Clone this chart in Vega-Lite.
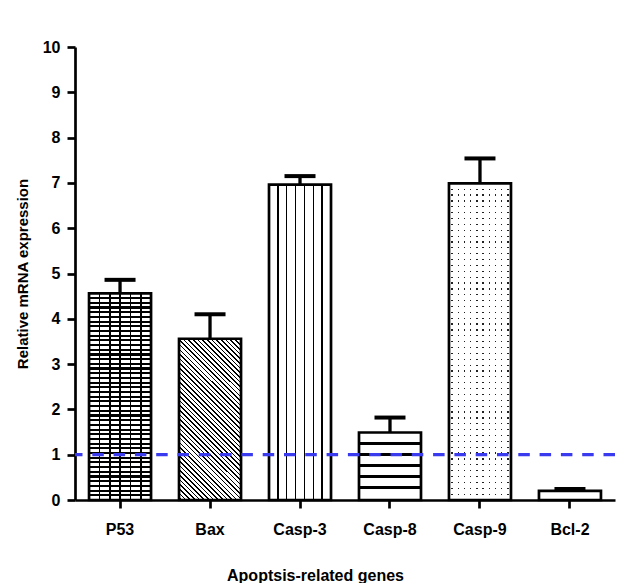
{
"$schema":"https://vega.github.io/schema/vega-lite/v6.json",
"width":540,"height":453,
"autosize":{"type":"none"},
"padding":{"left":75,"top":47,"right":2,"bottom":83},
"background":"white",
"config":{"view":{"stroke":null},"font":"Liberation Sans",
 "axis":{"domainColor":"black","domainWidth":2.7,"tickColor":"black","tickWidth":2.7,"tickSize":8,"labelColor":"black","labelFont":"Liberation Sans","labelFontSize":16,"labelFontWeight":"bold","titleColor":"black","titleFont":"Liberation Sans","titleFontWeight":"bold","grid":false}},
"data":{"values":[
 {"gene":"P53","value":4.56,"upper":4.86},
 {"gene":"Bax","value":3.56,"upper":4.10},
 {"gene":"Casp-3","value":6.96,"upper":7.15},
 {"gene":"Casp-8","value":1.49,"upper":1.82},
 {"gene":"Casp-9","value":6.99,"upper":7.54},
 {"gene":"Bcl-2","value":0.20,"upper":0.243}
]},
"layer":[
{"encoding":{"x":{"field":"gene","type":"nominal","sort":null,"scale":{"paddingInner":0.311,"paddingOuter":0.156},"title":"Apoptsis-related genes","axis":{"labelAngle":0,"labelPadding":13,"titleFontSize":16,"titleX":240,"titleY":80,"titleBaseline":"alphabetic"}},
 "y":{"field":"value","type":"quantitative","scale":{"domain":[0,10],"nice":false},"title":"Relative mRNA expression","axis":{"values":[0,1,2,3,4,5,6,7,8,9,10],"labelPadding":7,"titleFontSize":15,"titleX":-53,"titleY":226.5,"titleBaseline":"middle","titleAngle":-90}}},
"layer":[
{"transform":[{"filter":"datum.gene==='P53'"}],
 "mark":{"type":"bar","fill":{"gradient":"linear","x1":0,"y1":0,"x2":0,"y2":1,"stops":[
{"offset":0,"color":"#fff"},
{"offset":0.0176,"color":"#fff"},{"offset":0.0176,"color":"#000"},{"offset":0.0278,"color":"#000"},{"offset":0.0278,"color":"#fff"},
{"offset":0.0404,"color":"#fff"},{"offset":0.0404,"color":"#000"},{"offset":0.0506,"color":"#000"},{"offset":0.0506,"color":"#fff"},
{"offset":0.0631,"color":"#fff"},{"offset":0.0631,"color":"#000"},{"offset":0.0733,"color":"#000"},{"offset":0.0733,"color":"#fff"},
{"offset":0.0858,"color":"#fff"},{"offset":0.0858,"color":"#000"},{"offset":0.0960,"color":"#000"},{"offset":0.0960,"color":"#fff"},
{"offset":0.1085,"color":"#fff"},{"offset":0.1085,"color":"#000"},{"offset":0.1187,"color":"#000"},{"offset":0.1187,"color":"#fff"},
{"offset":0.1313,"color":"#fff"},{"offset":0.1313,"color":"#000"},{"offset":0.1415,"color":"#000"},{"offset":0.1415,"color":"#fff"},
{"offset":0.1540,"color":"#fff"},{"offset":0.1540,"color":"#000"},{"offset":0.1642,"color":"#000"},{"offset":0.1642,"color":"#fff"},
{"offset":0.1767,"color":"#fff"},{"offset":0.1767,"color":"#000"},{"offset":0.1869,"color":"#000"},{"offset":0.1869,"color":"#fff"},
{"offset":0.1994,"color":"#fff"},{"offset":0.1994,"color":"#000"},{"offset":0.2096,"color":"#000"},{"offset":0.2096,"color":"#fff"},
{"offset":0.2222,"color":"#fff"},{"offset":0.2222,"color":"#000"},{"offset":0.2324,"color":"#000"},{"offset":0.2324,"color":"#fff"},
{"offset":0.2449,"color":"#fff"},{"offset":0.2449,"color":"#000"},{"offset":0.2551,"color":"#000"},{"offset":0.2551,"color":"#fff"},
{"offset":0.2676,"color":"#fff"},{"offset":0.2676,"color":"#000"},{"offset":0.2778,"color":"#000"},{"offset":0.2778,"color":"#fff"},
{"offset":0.2904,"color":"#fff"},{"offset":0.2904,"color":"#000"},{"offset":0.3006,"color":"#000"},{"offset":0.3006,"color":"#fff"},
{"offset":0.3131,"color":"#fff"},{"offset":0.3131,"color":"#000"},{"offset":0.3233,"color":"#000"},{"offset":0.3233,"color":"#fff"},
{"offset":0.3358,"color":"#fff"},{"offset":0.3358,"color":"#000"},{"offset":0.3460,"color":"#000"},{"offset":0.3460,"color":"#fff"},
{"offset":0.3585,"color":"#fff"},{"offset":0.3585,"color":"#000"},{"offset":0.3687,"color":"#000"},{"offset":0.3687,"color":"#fff"},
{"offset":0.3813,"color":"#fff"},{"offset":0.3813,"color":"#000"},{"offset":0.3915,"color":"#000"},{"offset":0.3915,"color":"#fff"},
{"offset":0.4040,"color":"#fff"},{"offset":0.4040,"color":"#000"},{"offset":0.4142,"color":"#000"},{"offset":0.4142,"color":"#fff"},
{"offset":0.4267,"color":"#fff"},{"offset":0.4267,"color":"#000"},{"offset":0.4369,"color":"#000"},{"offset":0.4369,"color":"#fff"},
{"offset":0.4494,"color":"#fff"},{"offset":0.4494,"color":"#000"},{"offset":0.4596,"color":"#000"},{"offset":0.4596,"color":"#fff"},
{"offset":0.4722,"color":"#fff"},{"offset":0.4722,"color":"#000"},{"offset":0.4824,"color":"#000"},{"offset":0.4824,"color":"#fff"},
{"offset":0.4949,"color":"#fff"},{"offset":0.4949,"color":"#000"},{"offset":0.5051,"color":"#000"},{"offset":0.5051,"color":"#fff"},
{"offset":0.5176,"color":"#fff"},{"offset":0.5176,"color":"#000"},{"offset":0.5278,"color":"#000"},{"offset":0.5278,"color":"#fff"},
{"offset":0.5404,"color":"#fff"},{"offset":0.5404,"color":"#000"},{"offset":0.5506,"color":"#000"},{"offset":0.5506,"color":"#fff"},
{"offset":0.5631,"color":"#fff"},{"offset":0.5631,"color":"#000"},{"offset":0.5733,"color":"#000"},{"offset":0.5733,"color":"#fff"},
{"offset":0.5858,"color":"#fff"},{"offset":0.5858,"color":"#000"},{"offset":0.5960,"color":"#000"},{"offset":0.5960,"color":"#fff"},
{"offset":0.6085,"color":"#fff"},{"offset":0.6085,"color":"#000"},{"offset":0.6187,"color":"#000"},{"offset":0.6187,"color":"#fff"},
{"offset":0.6313,"color":"#fff"},{"offset":0.6313,"color":"#000"},{"offset":0.6415,"color":"#000"},{"offset":0.6415,"color":"#fff"},
{"offset":0.6540,"color":"#fff"},{"offset":0.6540,"color":"#000"},{"offset":0.6642,"color":"#000"},{"offset":0.6642,"color":"#fff"},
{"offset":0.6767,"color":"#fff"},{"offset":0.6767,"color":"#000"},{"offset":0.6869,"color":"#000"},{"offset":0.6869,"color":"#fff"},
{"offset":0.6994,"color":"#fff"},{"offset":0.6994,"color":"#000"},{"offset":0.7096,"color":"#000"},{"offset":0.7096,"color":"#fff"},
{"offset":0.7222,"color":"#fff"},{"offset":0.7222,"color":"#000"},{"offset":0.7324,"color":"#000"},{"offset":0.7324,"color":"#fff"},
{"offset":0.7449,"color":"#fff"},{"offset":0.7449,"color":"#000"},{"offset":0.7551,"color":"#000"},{"offset":0.7551,"color":"#fff"},
{"offset":0.7676,"color":"#fff"},{"offset":0.7676,"color":"#000"},{"offset":0.7778,"color":"#000"},{"offset":0.7778,"color":"#fff"},
{"offset":0.7904,"color":"#fff"},{"offset":0.7904,"color":"#000"},{"offset":0.8006,"color":"#000"},{"offset":0.8006,"color":"#fff"},
{"offset":0.8131,"color":"#fff"},{"offset":0.8131,"color":"#000"},{"offset":0.8233,"color":"#000"},{"offset":0.8233,"color":"#fff"},
{"offset":0.8358,"color":"#fff"},{"offset":0.8358,"color":"#000"},{"offset":0.8460,"color":"#000"},{"offset":0.8460,"color":"#fff"},
{"offset":0.8585,"color":"#fff"},{"offset":0.8585,"color":"#000"},{"offset":0.8687,"color":"#000"},{"offset":0.8687,"color":"#fff"},
{"offset":0.8813,"color":"#fff"},{"offset":0.8813,"color":"#000"},{"offset":0.8915,"color":"#000"},{"offset":0.8915,"color":"#fff"},
{"offset":0.9040,"color":"#fff"},{"offset":0.9040,"color":"#000"},{"offset":0.9142,"color":"#000"},{"offset":0.9142,"color":"#fff"},
{"offset":0.9267,"color":"#fff"},{"offset":0.9267,"color":"#000"},{"offset":0.9369,"color":"#000"},{"offset":0.9369,"color":"#fff"},
{"offset":0.9494,"color":"#fff"},{"offset":0.9494,"color":"#000"},{"offset":0.9596,"color":"#000"},{"offset":0.9596,"color":"#fff"},
{"offset":0.9722,"color":"#fff"},{"offset":0.9722,"color":"#000"},{"offset":0.9824,"color":"#000"},{"offset":0.9824,"color":"#fff"},
{"offset":1,"color":"#fff"}]}}},
{"transform":[{"filter":"datum.gene==='P53'"}],
 "mark":{"type":"bar","fill":{"gradient":"linear","x1":0,"y1":0,"x2":1,"y2":0,"stops":[
{"offset":0,"color":"rgba(0,0,0,0)"},
{"offset":0.153,"color":"rgba(0,0,0,0)"},{"offset":0.153,"color":"#000"},{"offset":0.1804,"color":"#000"},{"offset":0.1804,"color":"rgba(0,0,0,0)"},
{"offset":0.3196,"color":"rgba(0,0,0,0)"},{"offset":0.3196,"color":"#000"},{"offset":0.347,"color":"#000"},{"offset":0.347,"color":"rgba(0,0,0,0)"},
{"offset":0.4863,"color":"rgba(0,0,0,0)"},{"offset":0.4863,"color":"#000"},{"offset":0.5137,"color":"#000"},{"offset":0.5137,"color":"rgba(0,0,0,0)"},
{"offset":0.653,"color":"rgba(0,0,0,0)"},{"offset":0.653,"color":"#000"},{"offset":0.6804,"color":"#000"},{"offset":0.6804,"color":"rgba(0,0,0,0)"},
{"offset":0.8196,"color":"rgba(0,0,0,0)"},{"offset":0.8196,"color":"#000"},{"offset":0.847,"color":"#000"},{"offset":0.847,"color":"rgba(0,0,0,0)"},
{"offset":1,"color":"rgba(0,0,0,0)"}]}}},
{"transform":[{"filter":"datum.gene==='Bax'"}],
 "mark":{"type":"bar","fill":{"gradient":"linear","x1":0,"y1":1,"x2":0.4634,"y2":-0.2062,"stops":[
{"offset":0,"color":"#fff"},
{"offset":0.0068,"color":"#fff"},{"offset":0.0068,"color":"#000"},{"offset":0.0140,"color":"#000"},{"offset":0.0140,"color":"#fff"},
{"offset":0.0277,"color":"#fff"},{"offset":0.0277,"color":"#000"},{"offset":0.0349,"color":"#000"},{"offset":0.0349,"color":"#fff"},
{"offset":0.0485,"color":"#fff"},{"offset":0.0485,"color":"#000"},{"offset":0.0557,"color":"#000"},{"offset":0.0557,"color":"#fff"},
{"offset":0.0693,"color":"#fff"},{"offset":0.0693,"color":"#000"},{"offset":0.0765,"color":"#000"},{"offset":0.0765,"color":"#fff"},
{"offset":0.0902,"color":"#fff"},{"offset":0.0902,"color":"#000"},{"offset":0.0974,"color":"#000"},{"offset":0.0974,"color":"#fff"},
{"offset":0.1110,"color":"#fff"},{"offset":0.1110,"color":"#000"},{"offset":0.1182,"color":"#000"},{"offset":0.1182,"color":"#fff"},
{"offset":0.1318,"color":"#fff"},{"offset":0.1318,"color":"#000"},{"offset":0.1390,"color":"#000"},{"offset":0.1390,"color":"#fff"},
{"offset":0.1527,"color":"#fff"},{"offset":0.1527,"color":"#000"},{"offset":0.1599,"color":"#000"},{"offset":0.1599,"color":"#fff"},
{"offset":0.1735,"color":"#fff"},{"offset":0.1735,"color":"#000"},{"offset":0.1807,"color":"#000"},{"offset":0.1807,"color":"#fff"},
{"offset":0.1943,"color":"#fff"},{"offset":0.1943,"color":"#000"},{"offset":0.2015,"color":"#000"},{"offset":0.2015,"color":"#fff"},
{"offset":0.2152,"color":"#fff"},{"offset":0.2152,"color":"#000"},{"offset":0.2224,"color":"#000"},{"offset":0.2224,"color":"#fff"},
{"offset":0.2360,"color":"#fff"},{"offset":0.2360,"color":"#000"},{"offset":0.2432,"color":"#000"},{"offset":0.2432,"color":"#fff"},
{"offset":0.2568,"color":"#fff"},{"offset":0.2568,"color":"#000"},{"offset":0.2640,"color":"#000"},{"offset":0.2640,"color":"#fff"},
{"offset":0.2777,"color":"#fff"},{"offset":0.2777,"color":"#000"},{"offset":0.2849,"color":"#000"},{"offset":0.2849,"color":"#fff"},
{"offset":0.2985,"color":"#fff"},{"offset":0.2985,"color":"#000"},{"offset":0.3057,"color":"#000"},{"offset":0.3057,"color":"#fff"},
{"offset":0.3193,"color":"#fff"},{"offset":0.3193,"color":"#000"},{"offset":0.3265,"color":"#000"},{"offset":0.3265,"color":"#fff"},
{"offset":0.3402,"color":"#fff"},{"offset":0.3402,"color":"#000"},{"offset":0.3474,"color":"#000"},{"offset":0.3474,"color":"#fff"},
{"offset":0.3610,"color":"#fff"},{"offset":0.3610,"color":"#000"},{"offset":0.3682,"color":"#000"},{"offset":0.3682,"color":"#fff"},
{"offset":0.3818,"color":"#fff"},{"offset":0.3818,"color":"#000"},{"offset":0.3890,"color":"#000"},{"offset":0.3890,"color":"#fff"},
{"offset":0.4027,"color":"#fff"},{"offset":0.4027,"color":"#000"},{"offset":0.4099,"color":"#000"},{"offset":0.4099,"color":"#fff"},
{"offset":0.4235,"color":"#fff"},{"offset":0.4235,"color":"#000"},{"offset":0.4307,"color":"#000"},{"offset":0.4307,"color":"#fff"},
{"offset":0.4443,"color":"#fff"},{"offset":0.4443,"color":"#000"},{"offset":0.4515,"color":"#000"},{"offset":0.4515,"color":"#fff"},
{"offset":0.4652,"color":"#fff"},{"offset":0.4652,"color":"#000"},{"offset":0.4724,"color":"#000"},{"offset":0.4724,"color":"#fff"},
{"offset":0.4860,"color":"#fff"},{"offset":0.4860,"color":"#000"},{"offset":0.4932,"color":"#000"},{"offset":0.4932,"color":"#fff"},
{"offset":0.5068,"color":"#fff"},{"offset":0.5068,"color":"#000"},{"offset":0.5140,"color":"#000"},{"offset":0.5140,"color":"#fff"},
{"offset":0.5277,"color":"#fff"},{"offset":0.5277,"color":"#000"},{"offset":0.5349,"color":"#000"},{"offset":0.5349,"color":"#fff"},
{"offset":0.5485,"color":"#fff"},{"offset":0.5485,"color":"#000"},{"offset":0.5557,"color":"#000"},{"offset":0.5557,"color":"#fff"},
{"offset":0.5693,"color":"#fff"},{"offset":0.5693,"color":"#000"},{"offset":0.5765,"color":"#000"},{"offset":0.5765,"color":"#fff"},
{"offset":0.5902,"color":"#fff"},{"offset":0.5902,"color":"#000"},{"offset":0.5974,"color":"#000"},{"offset":0.5974,"color":"#fff"},
{"offset":0.6110,"color":"#fff"},{"offset":0.6110,"color":"#000"},{"offset":0.6182,"color":"#000"},{"offset":0.6182,"color":"#fff"},
{"offset":0.6318,"color":"#fff"},{"offset":0.6318,"color":"#000"},{"offset":0.6390,"color":"#000"},{"offset":0.6390,"color":"#fff"},
{"offset":0.6527,"color":"#fff"},{"offset":0.6527,"color":"#000"},{"offset":0.6599,"color":"#000"},{"offset":0.6599,"color":"#fff"},
{"offset":0.6735,"color":"#fff"},{"offset":0.6735,"color":"#000"},{"offset":0.6807,"color":"#000"},{"offset":0.6807,"color":"#fff"},
{"offset":0.6943,"color":"#fff"},{"offset":0.6943,"color":"#000"},{"offset":0.7015,"color":"#000"},{"offset":0.7015,"color":"#fff"},
{"offset":0.7152,"color":"#fff"},{"offset":0.7152,"color":"#000"},{"offset":0.7224,"color":"#000"},{"offset":0.7224,"color":"#fff"},
{"offset":0.7360,"color":"#fff"},{"offset":0.7360,"color":"#000"},{"offset":0.7432,"color":"#000"},{"offset":0.7432,"color":"#fff"},
{"offset":0.7568,"color":"#fff"},{"offset":0.7568,"color":"#000"},{"offset":0.7640,"color":"#000"},{"offset":0.7640,"color":"#fff"},
{"offset":0.7777,"color":"#fff"},{"offset":0.7777,"color":"#000"},{"offset":0.7849,"color":"#000"},{"offset":0.7849,"color":"#fff"},
{"offset":0.7985,"color":"#fff"},{"offset":0.7985,"color":"#000"},{"offset":0.8057,"color":"#000"},{"offset":0.8057,"color":"#fff"},
{"offset":0.8193,"color":"#fff"},{"offset":0.8193,"color":"#000"},{"offset":0.8265,"color":"#000"},{"offset":0.8265,"color":"#fff"},
{"offset":0.8402,"color":"#fff"},{"offset":0.8402,"color":"#000"},{"offset":0.8474,"color":"#000"},{"offset":0.8474,"color":"#fff"},
{"offset":0.8610,"color":"#fff"},{"offset":0.8610,"color":"#000"},{"offset":0.8682,"color":"#000"},{"offset":0.8682,"color":"#fff"},
{"offset":0.8818,"color":"#fff"},{"offset":0.8818,"color":"#000"},{"offset":0.8890,"color":"#000"},{"offset":0.8890,"color":"#fff"},
{"offset":0.9027,"color":"#fff"},{"offset":0.9027,"color":"#000"},{"offset":0.9099,"color":"#000"},{"offset":0.9099,"color":"#fff"},
{"offset":0.9235,"color":"#fff"},{"offset":0.9235,"color":"#000"},{"offset":0.9307,"color":"#000"},{"offset":0.9307,"color":"#fff"},
{"offset":0.9443,"color":"#fff"},{"offset":0.9443,"color":"#000"},{"offset":0.9515,"color":"#000"},{"offset":0.9515,"color":"#fff"},
{"offset":0.9652,"color":"#fff"},{"offset":0.9652,"color":"#000"},{"offset":0.9724,"color":"#000"},{"offset":0.9724,"color":"#fff"},
{"offset":0.9860,"color":"#fff"},{"offset":0.9860,"color":"#000"},{"offset":0.9932,"color":"#000"},{"offset":0.9932,"color":"#fff"},
{"offset":1,"color":"#fff"}]}}},
{"transform":[{"filter":"datum.gene==='Casp-3'"}],
 "mark":{"type":"bar","fill":{"gradient":"linear","x1":0,"y1":0,"x2":1,"y2":0,"stops":[
{"offset":0,"color":"#fff"},
{"offset":0.1324,"color":"#fff"},{"offset":0.1324,"color":"#000"},{"offset":0.1533,"color":"#000"},{"offset":0.1533,"color":"#fff"},
{"offset":0.2752,"color":"#fff"},{"offset":0.2752,"color":"#000"},{"offset":0.2962,"color":"#000"},{"offset":0.2962,"color":"#fff"},
{"offset":0.4181,"color":"#fff"},{"offset":0.4181,"color":"#000"},{"offset":0.4391,"color":"#000"},{"offset":0.4391,"color":"#fff"},
{"offset":0.5609,"color":"#fff"},{"offset":0.5609,"color":"#000"},{"offset":0.5819,"color":"#000"},{"offset":0.5819,"color":"#fff"},
{"offset":0.7038,"color":"#fff"},{"offset":0.7038,"color":"#000"},{"offset":0.7248,"color":"#000"},{"offset":0.7248,"color":"#fff"},
{"offset":0.8466,"color":"#fff"},{"offset":0.8466,"color":"#000"},{"offset":0.8676,"color":"#000"},{"offset":0.8676,"color":"#fff"},
{"offset":1,"color":"#fff"}]}}},
{"transform":[{"filter":"datum.gene==='Casp-8'"}],
 "mark":{"type":"bar","fill":{"gradient":"linear","x1":0,"y1":0,"x2":0,"y2":1,"stops":[
{"offset":0,"color":"#fff"},
{"offset":0.143,"color":"#fff"},{"offset":0.143,"color":"#000"},{"offset":0.183,"color":"#000"},{"offset":0.183,"color":"#fff"},
{"offset":0.307,"color":"#fff"},{"offset":0.307,"color":"#000"},{"offset":0.347,"color":"#000"},{"offset":0.347,"color":"#fff"},
{"offset":0.47,"color":"#fff"},{"offset":0.47,"color":"#000"},{"offset":0.51,"color":"#000"},{"offset":0.51,"color":"#fff"},
{"offset":0.633,"color":"#fff"},{"offset":0.633,"color":"#000"},{"offset":0.673,"color":"#000"},{"offset":0.673,"color":"#fff"},
{"offset":0.797,"color":"#fff"},{"offset":0.797,"color":"#000"},{"offset":0.837,"color":"#000"},{"offset":0.837,"color":"#fff"},
{"offset":1,"color":"#fff"}]}}},
{"transform":[{"filter":"datum.gene==='Casp-9'"}],
 "mark":{"type":"bar","fill":{"gradient":"linear","x1":0,"y1":0,"x2":0,"y2":1,"stops":[
{"offset":0,"color":"#fff"},
{"offset":0.0165,"color":"#fff"},{"offset":0.0165,"color":"#222"},{"offset":0.0205,"color":"#222"},{"offset":0.0205,"color":"#fff"},
{"offset":0.0350,"color":"#fff"},{"offset":0.0350,"color":"#222"},{"offset":0.0390,"color":"#222"},{"offset":0.0390,"color":"#fff"},
{"offset":0.0536,"color":"#fff"},{"offset":0.0536,"color":"#222"},{"offset":0.0576,"color":"#222"},{"offset":0.0576,"color":"#fff"},
{"offset":0.0721,"color":"#fff"},{"offset":0.0721,"color":"#222"},{"offset":0.0761,"color":"#222"},{"offset":0.0761,"color":"#fff"},
{"offset":0.0906,"color":"#fff"},{"offset":0.0906,"color":"#222"},{"offset":0.0946,"color":"#222"},{"offset":0.0946,"color":"#fff"},
{"offset":0.1091,"color":"#fff"},{"offset":0.1091,"color":"#222"},{"offset":0.1131,"color":"#222"},{"offset":0.1131,"color":"#fff"},
{"offset":0.1276,"color":"#fff"},{"offset":0.1276,"color":"#222"},{"offset":0.1316,"color":"#222"},{"offset":0.1316,"color":"#fff"},
{"offset":0.1461,"color":"#fff"},{"offset":0.1461,"color":"#222"},{"offset":0.1501,"color":"#222"},{"offset":0.1501,"color":"#fff"},
{"offset":0.1647,"color":"#fff"},{"offset":0.1647,"color":"#222"},{"offset":0.1687,"color":"#222"},{"offset":0.1687,"color":"#fff"},
{"offset":0.1832,"color":"#fff"},{"offset":0.1832,"color":"#222"},{"offset":0.1872,"color":"#222"},{"offset":0.1872,"color":"#fff"},
{"offset":0.2017,"color":"#fff"},{"offset":0.2017,"color":"#222"},{"offset":0.2057,"color":"#222"},{"offset":0.2057,"color":"#fff"},
{"offset":0.2202,"color":"#fff"},{"offset":0.2202,"color":"#222"},{"offset":0.2242,"color":"#222"},{"offset":0.2242,"color":"#fff"},
{"offset":0.2387,"color":"#fff"},{"offset":0.2387,"color":"#222"},{"offset":0.2427,"color":"#222"},{"offset":0.2427,"color":"#fff"},
{"offset":0.2573,"color":"#fff"},{"offset":0.2573,"color":"#222"},{"offset":0.2613,"color":"#222"},{"offset":0.2613,"color":"#fff"},
{"offset":0.2758,"color":"#fff"},{"offset":0.2758,"color":"#222"},{"offset":0.2798,"color":"#222"},{"offset":0.2798,"color":"#fff"},
{"offset":0.2943,"color":"#fff"},{"offset":0.2943,"color":"#222"},{"offset":0.2983,"color":"#222"},{"offset":0.2983,"color":"#fff"},
{"offset":0.3128,"color":"#fff"},{"offset":0.3128,"color":"#222"},{"offset":0.3168,"color":"#222"},{"offset":0.3168,"color":"#fff"},
{"offset":0.3313,"color":"#fff"},{"offset":0.3313,"color":"#222"},{"offset":0.3353,"color":"#222"},{"offset":0.3353,"color":"#fff"},
{"offset":0.3499,"color":"#fff"},{"offset":0.3499,"color":"#222"},{"offset":0.3539,"color":"#222"},{"offset":0.3539,"color":"#fff"},
{"offset":0.3684,"color":"#fff"},{"offset":0.3684,"color":"#222"},{"offset":0.3724,"color":"#222"},{"offset":0.3724,"color":"#fff"},
{"offset":0.3869,"color":"#fff"},{"offset":0.3869,"color":"#222"},{"offset":0.3909,"color":"#222"},{"offset":0.3909,"color":"#fff"},
{"offset":0.4054,"color":"#fff"},{"offset":0.4054,"color":"#222"},{"offset":0.4094,"color":"#222"},{"offset":0.4094,"color":"#fff"},
{"offset":0.4239,"color":"#fff"},{"offset":0.4239,"color":"#222"},{"offset":0.4279,"color":"#222"},{"offset":0.4279,"color":"#fff"},
{"offset":0.4424,"color":"#fff"},{"offset":0.4424,"color":"#222"},{"offset":0.4464,"color":"#222"},{"offset":0.4464,"color":"#fff"},
{"offset":0.4610,"color":"#fff"},{"offset":0.4610,"color":"#222"},{"offset":0.4650,"color":"#222"},{"offset":0.4650,"color":"#fff"},
{"offset":0.4795,"color":"#fff"},{"offset":0.4795,"color":"#222"},{"offset":0.4835,"color":"#222"},{"offset":0.4835,"color":"#fff"},
{"offset":0.4980,"color":"#fff"},{"offset":0.4980,"color":"#222"},{"offset":0.5020,"color":"#222"},{"offset":0.5020,"color":"#fff"},
{"offset":0.5165,"color":"#fff"},{"offset":0.5165,"color":"#222"},{"offset":0.5205,"color":"#222"},{"offset":0.5205,"color":"#fff"},
{"offset":0.5350,"color":"#fff"},{"offset":0.5350,"color":"#222"},{"offset":0.5390,"color":"#222"},{"offset":0.5390,"color":"#fff"},
{"offset":0.5536,"color":"#fff"},{"offset":0.5536,"color":"#222"},{"offset":0.5576,"color":"#222"},{"offset":0.5576,"color":"#fff"},
{"offset":0.5721,"color":"#fff"},{"offset":0.5721,"color":"#222"},{"offset":0.5761,"color":"#222"},{"offset":0.5761,"color":"#fff"},
{"offset":0.5906,"color":"#fff"},{"offset":0.5906,"color":"#222"},{"offset":0.5946,"color":"#222"},{"offset":0.5946,"color":"#fff"},
{"offset":0.6091,"color":"#fff"},{"offset":0.6091,"color":"#222"},{"offset":0.6131,"color":"#222"},{"offset":0.6131,"color":"#fff"},
{"offset":0.6276,"color":"#fff"},{"offset":0.6276,"color":"#222"},{"offset":0.6316,"color":"#222"},{"offset":0.6316,"color":"#fff"},
{"offset":0.6461,"color":"#fff"},{"offset":0.6461,"color":"#222"},{"offset":0.6501,"color":"#222"},{"offset":0.6501,"color":"#fff"},
{"offset":0.6647,"color":"#fff"},{"offset":0.6647,"color":"#222"},{"offset":0.6687,"color":"#222"},{"offset":0.6687,"color":"#fff"},
{"offset":0.6832,"color":"#fff"},{"offset":0.6832,"color":"#222"},{"offset":0.6872,"color":"#222"},{"offset":0.6872,"color":"#fff"},
{"offset":0.7017,"color":"#fff"},{"offset":0.7017,"color":"#222"},{"offset":0.7057,"color":"#222"},{"offset":0.7057,"color":"#fff"},
{"offset":0.7202,"color":"#fff"},{"offset":0.7202,"color":"#222"},{"offset":0.7242,"color":"#222"},{"offset":0.7242,"color":"#fff"},
{"offset":0.7387,"color":"#fff"},{"offset":0.7387,"color":"#222"},{"offset":0.7427,"color":"#222"},{"offset":0.7427,"color":"#fff"},
{"offset":0.7573,"color":"#fff"},{"offset":0.7573,"color":"#222"},{"offset":0.7613,"color":"#222"},{"offset":0.7613,"color":"#fff"},
{"offset":0.7758,"color":"#fff"},{"offset":0.7758,"color":"#222"},{"offset":0.7798,"color":"#222"},{"offset":0.7798,"color":"#fff"},
{"offset":0.7943,"color":"#fff"},{"offset":0.7943,"color":"#222"},{"offset":0.7983,"color":"#222"},{"offset":0.7983,"color":"#fff"},
{"offset":0.8128,"color":"#fff"},{"offset":0.8128,"color":"#222"},{"offset":0.8168,"color":"#222"},{"offset":0.8168,"color":"#fff"},
{"offset":0.8313,"color":"#fff"},{"offset":0.8313,"color":"#222"},{"offset":0.8353,"color":"#222"},{"offset":0.8353,"color":"#fff"},
{"offset":0.8499,"color":"#fff"},{"offset":0.8499,"color":"#222"},{"offset":0.8539,"color":"#222"},{"offset":0.8539,"color":"#fff"},
{"offset":0.8684,"color":"#fff"},{"offset":0.8684,"color":"#222"},{"offset":0.8724,"color":"#222"},{"offset":0.8724,"color":"#fff"},
{"offset":0.8869,"color":"#fff"},{"offset":0.8869,"color":"#222"},{"offset":0.8909,"color":"#222"},{"offset":0.8909,"color":"#fff"},
{"offset":0.9054,"color":"#fff"},{"offset":0.9054,"color":"#222"},{"offset":0.9094,"color":"#222"},{"offset":0.9094,"color":"#fff"},
{"offset":0.9239,"color":"#fff"},{"offset":0.9239,"color":"#222"},{"offset":0.9279,"color":"#222"},{"offset":0.9279,"color":"#fff"},
{"offset":0.9424,"color":"#fff"},{"offset":0.9424,"color":"#222"},{"offset":0.9464,"color":"#222"},{"offset":0.9464,"color":"#fff"},
{"offset":0.9610,"color":"#fff"},{"offset":0.9610,"color":"#222"},{"offset":0.9650,"color":"#222"},{"offset":0.9650,"color":"#fff"},
{"offset":0.9795,"color":"#fff"},{"offset":0.9795,"color":"#222"},{"offset":0.9835,"color":"#222"},{"offset":0.9835,"color":"#fff"},
{"offset":1,"color":"#fff"}]}}},
{"transform":[{"filter":"datum.gene==='Casp-9'"}],
 "mark":{"type":"bar","fill":{"gradient":"linear","x1":0,"y1":0,"x2":1,"y2":0,"stops":[
{"offset":0,"color":"#fff"},
{"offset":0.0395,"color":"#fff"},{"offset":0.0395,"color":"rgba(255,255,255,0)"},{"offset":0.0605,"color":"rgba(255,255,255,0)"},{"offset":0.0605,"color":"#fff"},
{"offset":0.1395,"color":"#fff"},{"offset":0.1395,"color":"rgba(255,255,255,0)"},{"offset":0.1605,"color":"rgba(255,255,255,0)"},{"offset":0.1605,"color":"#fff"},
{"offset":0.2395,"color":"#fff"},{"offset":0.2395,"color":"rgba(255,255,255,0)"},{"offset":0.2605,"color":"rgba(255,255,255,0)"},{"offset":0.2605,"color":"#fff"},
{"offset":0.3395,"color":"#fff"},{"offset":0.3395,"color":"rgba(255,255,255,0)"},{"offset":0.3605,"color":"rgba(255,255,255,0)"},{"offset":0.3605,"color":"#fff"},
{"offset":0.4395,"color":"#fff"},{"offset":0.4395,"color":"rgba(255,255,255,0)"},{"offset":0.4605,"color":"rgba(255,255,255,0)"},{"offset":0.4605,"color":"#fff"},
{"offset":0.5395,"color":"#fff"},{"offset":0.5395,"color":"rgba(255,255,255,0)"},{"offset":0.5605,"color":"rgba(255,255,255,0)"},{"offset":0.5605,"color":"#fff"},
{"offset":0.6395,"color":"#fff"},{"offset":0.6395,"color":"rgba(255,255,255,0)"},{"offset":0.6605,"color":"rgba(255,255,255,0)"},{"offset":0.6605,"color":"#fff"},
{"offset":0.7395,"color":"#fff"},{"offset":0.7395,"color":"rgba(255,255,255,0)"},{"offset":0.7605,"color":"rgba(255,255,255,0)"},{"offset":0.7605,"color":"#fff"},
{"offset":0.8395,"color":"#fff"},{"offset":0.8395,"color":"rgba(255,255,255,0)"},{"offset":0.8605,"color":"rgba(255,255,255,0)"},{"offset":0.8605,"color":"#fff"},
{"offset":0.9395,"color":"#fff"},{"offset":0.9395,"color":"rgba(255,255,255,0)"},{"offset":0.9605,"color":"rgba(255,255,255,0)"},{"offset":0.9605,"color":"#fff"},
{"offset":1,"color":"#fff"}]}}},
{"mark":{"type":"bar","fill":"white","fillOpacity":0,"stroke":"black","strokeWidth":2.7}},
{"mark":{"type":"rule","color":"black","strokeWidth":3.3},
 "encoding":{"y2":{"field":"upper"}}},
{"mark":{"type":"tick","color":"black","opacity":1,"thickness":4,"size":31},
 "encoding":{"y":{"field":"upper","type":"quantitative","scale":{"domain":[0,10],"nice":false},"title":"Relative mRNA expression","axis":{"values":[0,1,2,3,4,5,6,7,8,9,10],"labelPadding":7,"titleFontSize":15,"titleX":-53,"titleY":226.5,"titleBaseline":"middle","titleAngle":-90}}}}
]},
{"data":{"values":[{"ref":1}]},
 "mark":{"type":"rule","color":"#3a3aef","strokeWidth":3.3,"strokeDash":[11.5,9.8]},
 "encoding":{"y":{"field":"ref","type":"quantitative","scale":{"domain":[0,10],"nice":false},"title":"Relative mRNA expression","axis":{"values":[0,1,2,3,4,5,6,7,8,9,10],"labelPadding":7,"titleFontSize":15,"titleX":-53,"titleY":226.5,"titleBaseline":"middle","titleAngle":-90}}}}
]
}
